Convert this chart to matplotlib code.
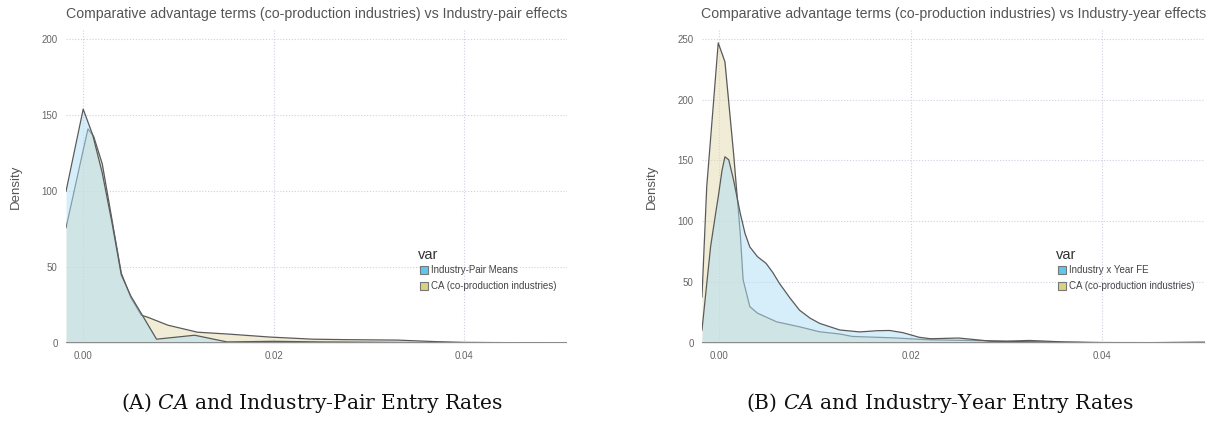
import matplotlib
matplotlib.use("Agg")
import matplotlib.pyplot as plt
from matplotlib.patches import Rectangle

plt.rcParams['font.family'] = ['Liberation Sans', 'DejaVu Sans']
plt.rcParams['mathtext.fontset'] = 'custom'
plt.rcParams['mathtext.it'] = 'DejaVu Serif:italic'
plt.rcParams['mathtext.rm'] = 'DejaVu Serif'

# ---------------- data ----------------
# Panel A
pair_x = [-0.0018, 0.0, 0.001, 0.002, 0.003, 0.004, 0.005, 0.0061, 0.0077,
          0.0117, 0.0151, 0.02, 0.025, 0.03, 0.04, 0.05, 0.051]
pair_y = [100, 154, 137, 112, 80, 45, 31, 19.5, 2.6,
          5.2, 0.8, 1.2, 0.8, 0.6, 0.2, 0.1, 0.1]
caA_x = [-0.0018, 0.0, 0.0005, 0.0011, 0.002, 0.003, 0.004, 0.005, 0.0061, 0.0068,
         0.0089, 0.012, 0.0154, 0.0196, 0.0241, 0.0275, 0.033, 0.037, 0.04, 0.045, 0.051]
caA_y = [76, 127, 141, 136, 118, 82, 46, 30, 18.4, 17,
         11.8, 7.2, 5.9, 4.0, 2.6, 2.3, 2.0, 1.0, 0.5, 0.3, 0.2]

# Panel B
year_x = [-0.0018, -0.0009, -0.0004, -0.0001, 0.0003, 0.0006, 0.001, 0.0015, 0.0022,
          0.0027, 0.0032, 0.004, 0.0049, 0.0056, 0.0063, 0.0074, 0.0084, 0.0095, 0.0105,
          0.0126, 0.0147, 0.0165, 0.0178, 0.0192, 0.0209, 0.0221,
          0.025, 0.027, 0.0283, 0.035, 0.04, 0.05, 0.051]
year_y = [10.7, 79, 105, 120, 142, 153, 150.5, 134, 106.6,
          90, 79, 71, 65.5, 58, 49, 37, 27, 20.5, 16.2,
          10.8, 9.2, 10.2, 10.4, 8.6, 4.8, 3.6,
          4.2, 2.7, 1.6, 0.8, 0.3, 0.3, 0.3]
caB_x = [-0.0018, -0.0013, -0.0006, -0.0001, 0.0006, 0.0015, 0.0022, 0.0025, 0.0032,
         0.004, 0.006, 0.0084, 0.0105, 0.0126, 0.0139, 0.018, 0.0221, 0.0262, 0.030,
         0.0324, 0.036, 0.04, 0.045, 0.05, 0.051]
caB_y = [38, 128.5, 197, 246.5, 231, 156, 90, 52, 30,
         24.6, 17.5, 13.4, 9.3, 7.5, 5.5, 4.4, 2.7, 2.2, 1.6,
         2.2, 1.0, 0.5, 0.4, 0.8, 0.8]

x_ticks = [0.00, 0.02, 0.04]
x_ticklabels = ["0.00", "0.02", "0.04"]
yA_ticks = [0, 50, 100, 150, 200]
yB_ticks = [0, 50, 100, 150, 200, 250]

titleA = "Comparative advantage terms (co-production industries) vs Industry-pair effects"
titleB = "Comparative advantage terms (co-production industries) vs Industry-year effects"
labelA = ["Industry-Pair Means", "CA (co-production industries)"]
labelB = ["Industry x Year FE", "CA (co-production industries)"]
captionA = "(A) $CA$ and Industry-Pair Entry Rates"
captionB = "(B) $CA$ and Industry-Year Entry Rates"

# ---------------- styling ----------------
BLUE_FILL = "#AFDFF5"
TAN_FILL = "#E5DBAD"
BLUE_KEY = "#5CC8EF"
TAN_KEY = "#D8D47E"
LINE = "#5a5a5a"
GRID = "#cfcfe2"
TXT = "#555555"

fig = plt.figure(figsize=(12.3, 4.3), dpi=100)
axA = fig.add_axes([0.0537, 0.202, 0.4073, 0.728])
axB = fig.add_axes([0.5707, 0.202, 0.4093, 0.728])


def draw(ax, fx, fy, cx, cy, ylim, yticks, title, labels):
    ax.fill_between(cx, cy, 0, color=TAN_FILL, alpha=0.5, lw=0, zorder=2)
    ax.plot(cx, cy, color=LINE, lw=0.9, zorder=2)
    ax.fill_between(fx, fy, 0, color=BLUE_FILL, alpha=0.5, lw=0, zorder=3)
    ax.plot(fx, fy, color=LINE, lw=0.9, zorder=3)
    ax.axhline(0, color="#8c8c8c", lw=2.2, zorder=4)
    ax.set_xlim(-0.0018, 0.0508)
    ax.set_ylim(0, ylim)
    ax.set_xticks(x_ticks)
    ax.set_xticklabels(x_ticklabels)
    ax.set_yticks(yticks)
    ax.grid(True, color=GRID, ls=(0, (1.0, 1.6)), lw=0.8, zorder=0)
    ax.set_axisbelow(True)
    for s in ax.spines.values():
        s.set_visible(False)
    ax.tick_params(length=0, labelsize=7, colors="#666666", pad=6)
    ax.set_ylabel("Density", fontsize=9.5, color=TXT, labelpad=14)
    ax.set_title(title, fontsize=10.2, color=TXT, pad=9)

    # legend drawn by hand so the long label is clipped at the panel edge
    w_px = ax.bbox.width
    h_px = ax.bbox.height
    x0 = 0.7026
    ax.text(x0, 0.281, "var", transform=ax.transAxes, fontsize=10.5,
            color="#333333", ha="left", va="center", clip_on=False)
    for i, (lab, col) in enumerate(zip(labels, [BLUE_KEY, TAN_KEY])):
        yc = 0.233 - i * 0.0511
        ax.add_patch(Rectangle((x0 + 2 / w_px, yc - 4 / h_px), 8 / w_px, 8 / h_px,
                               transform=ax.transAxes, facecolor=col,
                               edgecolor="#777777", lw=0.8, clip_on=False, zorder=6))
        ax.text(x0 + 13 / w_px, yc, lab, transform=ax.transAxes, fontsize=7,
                color="#444444", ha="left", va="center", clip_on=True, zorder=6)


draw(axA, pair_x, pair_y, caA_x, caA_y, 206, yA_ticks, titleA, labelA)
draw(axB, year_x, year_y, caB_x, caB_y, 257, yB_ticks, titleB, labelB)

fig.text(0.254, 0.063, captionA, fontsize=14.6, family="DejaVu Serif",
         ha="center", va="center", color="#111111")
fig.text(0.764, 0.063, captionB, fontsize=14.6, family="DejaVu Serif",
         ha="center", va="center", color="#111111")

fig.savefig("out.png", dpi=100)
